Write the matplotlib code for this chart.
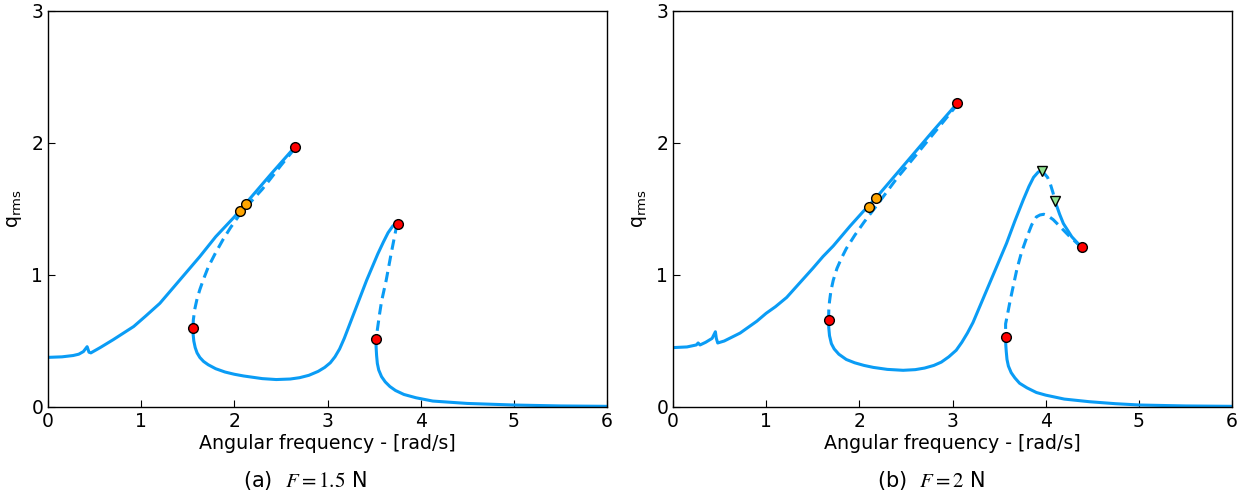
import matplotlib
matplotlib.use('Agg')
import matplotlib.pyplot as plt

azul = '#0a9cf5'

# ---- F = 1.5 N ----
a_sol1_x = [0, 0.15, 0.27, 0.33, 0.38, 0.42, 0.44, 0.46, 0.56, 0.7, 0.92, 1.05, 1.2, 1.4, 1.63, 1.8, 2.0, 2.12, 2.4, 2.65]
a_sol1_y = [0.376, 0.38, 0.39, 0.40, 0.42, 0.457, 0.415, 0.41, 0.45, 0.51, 0.61, 0.69, 0.785, 0.95, 1.14, 1.29, 1.44, 1.54, 1.77, 1.97]
a_dash1_x = [2.65, 2.5, 2.3, 2.12, 2.06, 1.96, 1.88, 1.80, 1.72, 1.67, 1.63, 1.60, 1.575, 1.56, 1.556]
a_dash1_y = [1.96, 1.83, 1.65, 1.51, 1.46, 1.36, 1.27, 1.17, 1.06, 0.97, 0.89, 0.82, 0.74, 0.66, 0.60]
a_sol2_x = [1.556, 1.558, 1.565, 1.58, 1.60, 1.63, 1.67, 1.72, 1.8, 1.9, 2.0, 2.1, 2.2, 2.3, 2.45, 2.6, 2.7, 2.8,
            2.9, 2.97, 3.03, 3.08, 3.13, 3.18, 3.24, 3.30, 3.36, 3.42, 3.48, 3.54, 3.60, 3.65, 3.70, 3.735, 3.755]
a_sol2_y = [0.60, 0.55, 0.50, 0.45, 0.41, 0.375, 0.345, 0.32, 0.29, 0.265, 0.248, 0.235, 0.225, 0.215, 0.208, 0.212,
            0.222, 0.24, 0.27, 0.30, 0.335, 0.38, 0.44, 0.52, 0.63, 0.74, 0.85, 0.96, 1.06, 1.16, 1.25, 1.32, 1.37, 1.39, 1.39]
a_dash2_x = [3.755, 3.74, 3.68, 3.63, 3.58, 3.56, 3.53, 3.52]
a_dash2_y = [1.39, 1.365, 1.15, 0.96, 0.80, 0.71, 0.56, 0.515]
a_sol3_x = [3.52, 3.522, 3.527, 3.535, 3.55, 3.58, 3.62, 3.67, 3.73, 3.82, 3.95, 4.13, 4.5, 5.0, 5.5, 6.0]
a_sol3_y = [0.515, 0.45, 0.39, 0.33, 0.28, 0.23, 0.19, 0.155, 0.125, 0.095, 0.07, 0.045, 0.027, 0.015, 0.008, 0.005]
a_red_x = [2.65, 1.556, 3.755, 3.52]
a_red_y = [1.97, 0.60, 1.39, 0.515]
a_orange_x = [2.06, 2.12]
a_orange_y = [1.485, 1.54]

# ---- F = 2 N ----
b_sol1_x = [0, 0.15, 0.25, 0.27, 0.29, 0.35, 0.42, 0.455, 0.465, 0.48, 0.55, 0.72, 0.9, 1.0, 1.1, 1.22, 1.36, 1.5,
            1.61, 1.72, 1.9, 2.04, 2.18, 2.44, 2.79, 3.05]
b_sol1_y = [0.45, 0.455, 0.47, 0.485, 0.47, 0.49, 0.52, 0.57, 0.52, 0.485, 0.50, 0.56, 0.65, 0.71, 0.76, 0.83, 0.94, 1.05,
            1.14, 1.22, 1.37, 1.48, 1.585, 1.80, 2.09, 2.30]
b_dash1_x = [1.67, 1.672, 1.68, 1.695, 1.72, 1.76, 1.81, 1.86, 1.95, 2.05, 2.19, 2.4, 2.61, 2.90, 3.05]
b_dash1_y = [0.66, 0.73, 0.80, 0.88, 0.96, 1.05, 1.13, 1.20, 1.30, 1.40, 1.53, 1.73, 1.91, 2.16, 2.29]
b_sol2_x = [1.67, 1.672, 1.68, 1.70, 1.73, 1.78, 1.86, 1.95, 2.05, 2.15, 2.3, 2.47, 2.6, 2.7, 2.8, 2.88, 2.96, 3.04,
            3.1, 3.16, 3.22, 3.31, 3.40, 3.49, 3.58, 3.67, 3.76, 3.82, 3.87, 3.92, 3.96]
b_sol2_y = [0.66, 0.60, 0.54, 0.48, 0.44, 0.40, 0.36, 0.335, 0.315, 0.30, 0.285, 0.278, 0.283, 0.295, 0.315, 0.34, 0.38,
            0.43, 0.49, 0.56, 0.64, 0.79, 0.94, 1.09, 1.24, 1.41, 1.57, 1.67, 1.74, 1.78, 1.79]
b_dash2_x = [3.96, 4.02, 4.05, 4.08, 4.10]
b_dash2_y = [1.79, 1.74, 1.69, 1.62, 1.56]
b_sol3_x = [4.10, 4.15, 4.19, 4.28, 4.385]
b_sol3_y = [1.56, 1.46, 1.39, 1.29, 1.21]
b_dash3_x = [4.385, 4.26, 4.15, 4.08, 4.02, 3.98, 3.94, 3.90, 3.85, 3.80, 3.74, 3.69, 3.62, 3.59, 3.57, 3.57]
b_dash3_y = [1.21, 1.29, 1.37, 1.42, 1.45, 1.46, 1.455, 1.44, 1.38, 1.29, 1.17, 1.04, 0.81, 0.70, 0.63, 0.53]
b_sol4_x = [3.57, 3.572, 3.577, 3.585, 3.60, 3.63, 3.67, 3.72, 3.8, 3.9, 4.0, 4.2, 4.47, 4.75, 5.01, 5.5, 6.0]
b_sol4_y = [0.53, 0.47, 0.42, 0.36, 0.31, 0.26, 0.22, 0.18, 0.145, 0.11, 0.09, 0.06, 0.04, 0.025, 0.015, 0.008, 0.005]
b_red_x = [3.05, 1.67, 3.57, 4.385]
b_red_y = [2.30, 0.66, 0.53, 1.21]
b_orange_x = [2.10, 2.18]
b_orange_y = [1.515, 1.58]
b_green_x = [3.96, 4.10]
b_green_y = [1.79, 1.56]

fig = plt.figure(figsize=(12.5, 5), dpi=100)
ax1 = fig.add_axes([0.0384, 0.186, 0.4472, 0.792])
ax2 = fig.add_axes([0.5384, 0.186, 0.4472, 0.792])

lw = 2.2
tracejado = (3.4, 2.0)


def desenha(ax, solidos, tracejados):
    for x, y in solidos:
        ax.plot(x, y, color=azul, lw=lw, solid_capstyle='round', solid_joinstyle='round')
    for x, y in tracejados:
        ax.plot(x, y, color=azul, lw=lw, linestyle=(0, tracejado), dash_joinstyle='round')


desenha(ax1, [(a_sol1_x, a_sol1_y), (a_sol2_x, a_sol2_y), (a_sol3_x, a_sol3_y)],
        [(a_dash1_x, a_dash1_y), (a_dash2_x, a_dash2_y)])
ax1.plot(a_orange_x, a_orange_y, 'o', color='orange', mec='black', mew=1, ms=7, zorder=5)
ax1.plot(a_red_x, a_red_y, 'o', color='red', mec='black', mew=1, ms=7, zorder=5)

desenha(ax2, [(b_sol1_x, b_sol1_y), (b_sol2_x, b_sol2_y), (b_sol3_x, b_sol3_y), (b_sol4_x, b_sol4_y)],
        [(b_dash1_x, b_dash1_y), (b_dash2_x, b_dash2_y), (b_dash3_x, b_dash3_y)])
ax2.plot(b_orange_x, b_orange_y, 'o', color='orange', mec='black', mew=1, ms=7, zorder=5)
ax2.plot(b_red_x, b_red_y, 'o', color='red', mec='black', mew=1, ms=7, zorder=5)
ax2.plot(b_green_x, b_green_y, 'v', color='#8fe08f', mec='black', mew=1, ms=7, zorder=5)

for ax in (ax1, ax2):
    ax.set_xlim(0, 6)
    ax.set_ylim(0, 3)
    ax.set_xticks([0, 1, 2, 3, 4, 5, 6])
    ax.set_yticks([0, 1, 2, 3])
    ax.tick_params(direction='in', length=5, labelsize=13.5, top=False, right=False)
    ax.set_xlabel('Angular frequency - [rad/s]', fontsize=13.7, labelpad=2)
    ax.set_ylabel(r'q$_\mathregular{rms}$', fontsize=13.7, labelpad=5)
    for s in ax.spines.values():
        s.set_linewidth(1.0)

fig.text(0.244, 0.025, r'(a)  $F = 1.5$ N', fontsize=15, ha='center', math_fontfamily='stix')
fig.text(0.745, 0.025, r'(b)  $F = 2$ N', fontsize=15, ha='center', math_fontfamily='stix')

fig.savefig('out.png', dpi=100)
